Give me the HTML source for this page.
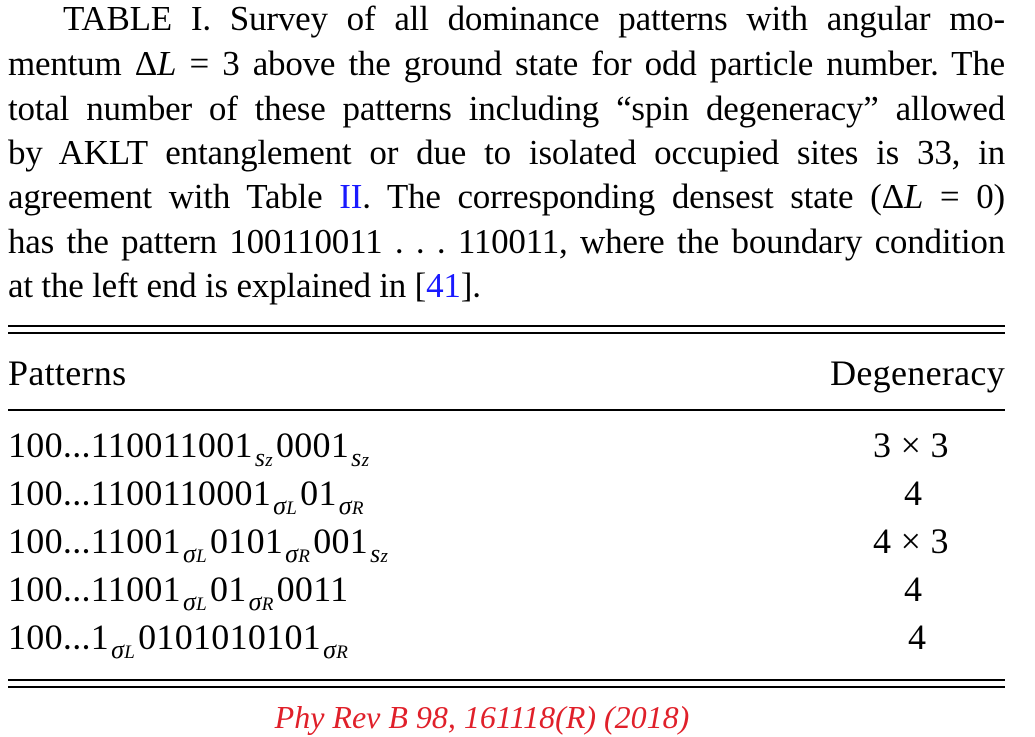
<!DOCTYPE html>
<html><head><meta charset="utf-8"><style>
body{margin:0;width:1035px;height:737px;background:#fff;font-family:"Liberation Serif",serif;color:#000;position:relative;overflow:hidden}
.l{position:absolute;left:8px;width:997px;font-size:35px;line-height:36px;text-align:justify;text-align-last:justify;white-space:nowrap;letter-spacing:-0.2px}
.l.n{text-align-last:left}
.r{position:absolute;height:2px;background:#000;left:8px;width:997px}
.t{position:absolute;font-size:36px;line-height:36px;white-space:nowrap;letter-spacing:0.3px}
sub{font-style:italic;font-size:26px;vertical-align:-9px;line-height:0;margin:0 3px 0 2px}
sub i{font-size:19px;font-style:italic}
.b{color:#1a1aff}
</style></head><body>
<div class="l" style="top:1px;padding-left:55px;width:942px">TABLE I. Survey of all dominance patterns with angular mo-</div>
<div class="l" style="top:46px">mentum Δ<i>L</i> = 3 above the ground state for odd particle number. The</div>
<div class="l" style="top:91px">total number of these patterns including “spin degeneracy” allowed</div>
<div class="l" style="top:135px">by AKLT entanglement or due to isolated occupied sites is 33, in</div>
<div class="l" style="top:179px">agreement with Table <span class="b">II</span>. The corresponding densest state (Δ<i>L</i> = 0)</div>
<div class="l" style="top:224px">has the pattern 100110011 . . . 110011, where the boundary condition</div>
<div class="l n" style="top:268px">at the left end is explained in [<span class="b">41</span>].</div>
<div class="r" style="top:325px"></div><div class="r" style="top:332px"></div>
<div class="t" style="left:8px;top:355px">Patterns</div>
<div class="t" style="right:30px;top:355px">Degeneracy</div>
<div class="r" style="top:409px"></div>
<div class="t" style="left:8px;top:427px">100...110011001<sub>s<i>z</i></sub>0001<sub>s<i>z</i></sub></div>
<div class="t" style="left:8px;top:475px">100...1100110001<sub>σ<i>L</i></sub>01<sub>σ<i>R</i></sub></div>
<div class="t" style="left:8px;top:523px">100...11001<sub>σ<i>L</i></sub>0101<sub>σ<i>R</i></sub>001<sub>s<i>z</i></sub></div>
<div class="t" style="left:8px;top:571px">100...11001<sub>σ<i>L</i></sub>01<sub>σ<i>R</i></sub>0011</div>
<div class="t" style="left:8px;top:619px">100...1<sub>σ<i>L</i></sub>0101010101<sub>σ<i>R</i></sub></div>
<div class="t" style="left:873px;top:427px">3 × 3</div>
<div class="t" style="left:904px;top:475px">4</div>
<div class="t" style="left:873px;top:523px">4 × 3</div>
<div class="t" style="left:904px;top:571px">4</div>
<div class="t" style="left:908px;top:619px">4</div>
<div class="r" style="top:679px"></div><div class="r" style="top:686px"></div>
<div style="position:absolute;left:0;width:964px;text-align:center;top:699px;font-size:32px;line-height:36px;font-style:italic;color:#e0202a">Phy Rev B 98, 161118(R) (2018)</div>
</body></html>
